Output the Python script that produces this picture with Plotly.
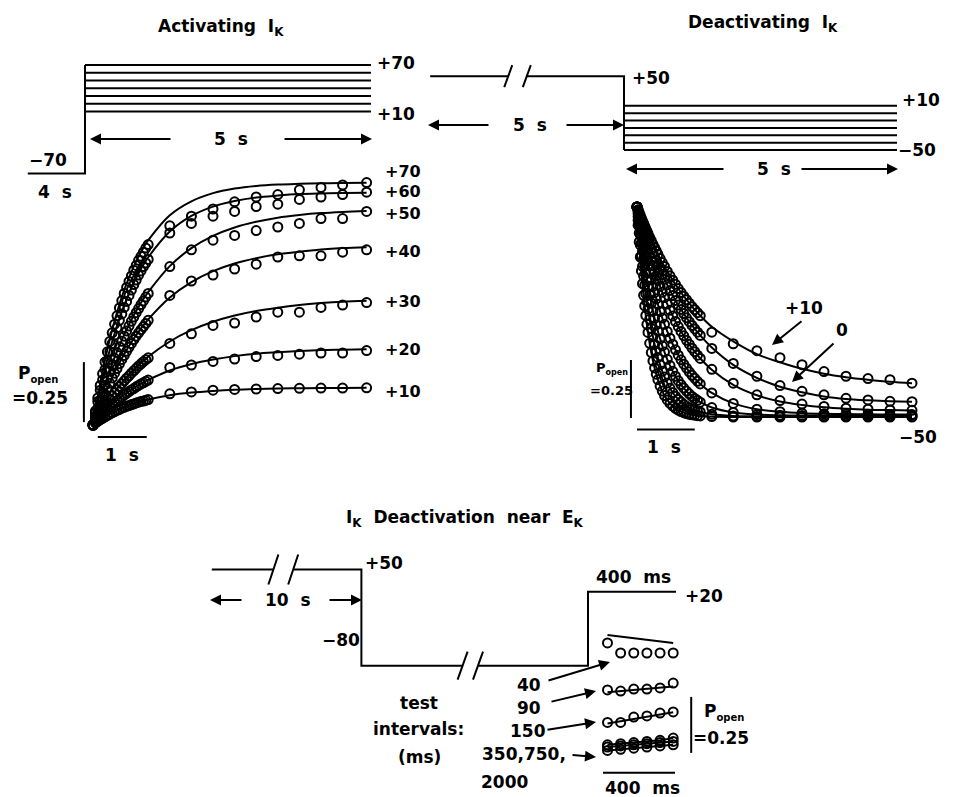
import plotly.graph_objects as go

# reference canvas is 960x797; the page adds an 8 px body margin, so the figure is 952x789
OFF = 8
W, H = 960 - OFF, 797 - OFF
FONT = "DejaVu Sans, Verdana, sans-serif"

# ===================== DATA =====================
# --- Panel A: activating I_K (time in s, open probability) ---
a_time_s = [0, 0.05, 0.1, 0.15, 0.2, 0.25, 0.3, 0.35, 0.4, 0.45, 0.5, 0.55, 0.6, 0.65, 0.7, 0.75,
            0.8, 0.85, 0.9, 0.95, 1.0, 1.05, 1.1, 1.15,
            1.6, 2.05, 2.5, 2.95, 3.4, 3.85, 4.3, 4.75, 5.2, 5.7]
a_labels = ["+70", "+60", "+50", "+40", "+30", "+20", "+10"]
a_fit_p70 = [0, .062, .119, .173, .223, .271, .316, .358, .397, .434, .469, .502, .533, .562, .589, .614,
             .638, .661, .682, .702, .721, .738, .755, .770,
             .874, .932, .966, .985, .996, 1.002, 1.005, 1.007, 1.008, 1.009]
a_obs_p70 = [0, .058, .113, .165, .214, .262, .305, .348, .384, .42, .455, .488, .518, .548, .573, .598,
             .621, .645, .665, .686, .703, .72, .737, .752,
             .83, .87, .90, .93, .95, .96, .98, .99, 1.0, 1.01]
a_fit_p60 = [0, .052, .102, .149, .193, .236, .275, .312, .348, .381, .413, .443, .472, .499, .524, .548,
             .571, .593, .613, .632, .651, .668, .684, .699,
             .806, .871, .91, .933, .948, .956, .962, .965, .967, .968]
a_obs_p60 = [0, .05, .098, .145, .188, .232, .268, .305, .34, .375, .405, .436, .463, .49, .515, .54,
             .562, .585, .604, .625, .642, .66, .675, .69,
             .80, .84, .87, .89, .91, .92, .94, .95, .96, .97]
a_fit_p50 = [0, .037, .072, .106, .138, .169, .199, .228, .255, .282, .307, .331, .354, .376, .398, .419,
             .438, .457, .475, .492, .509, .525, .54, .554,
             .662, .737, .788, .823, .847, .864, .875, .883, .888, .892]
a_obs_p50 = [0, .036, .07, .104, .135, .166, .195, .224, .251, .278, .302, .326, .349, .37, .392, .412,
             .432, .45, .468, .485, .502, .517, .533, .548,
             .66, .73, .77, .79, .81, .825, .84, .86, .86, .89]
a_fit_p40 = [0, .029, .056, .082, .107, .131, .155, .177, .199, .22, .239, .259, .277, .295, .312, .329,
             .345, .36, .375, .389, .402, .416, .428, .44,
             .531, .595, .641, .673, .695, .711, .722, .731, .737, .741]
a_obs_p40 = [0, .028, .054, .08, .104, .128, .152, .174, .196, .216, .235, .255, .273, .29, .307, .324,
             .34, .356, .37, .384, .397, .41, .423, .436,
             .54, .60, .625, .65, .67, .70, .705, .705, .72, .73]
a_fit_p30 = [0, .017, .034, .05, .066, .082, .096, .11, .124, .137, .15, .163, .175, .187, .198, .208,
             .219, .229, .239, .249, .258, .267, .275, .284,
             .348, .395, .43, .456, .475, .489, .5, .508, .514, .518]
a_obs_p30 = [0, .017, .033, .049, .064, .08, .094, .108, .122, .135, .147, .16, .172, .184, .195, .205,
             .216, .226, .236, .246, .255, .264, .272, .28,
             .34, .38, .415, .425, .45, .47, .47, .49, .50, .51]
a_fit_p20 = [0, .012, .024, .035, .046, .056, .066, .076, .085, .094, .102, .11, .118, .126, .133, .14,
             .147, .154, .16, .166, .172, .177, .183, .188,
             .227, .254, .273, .287, .297, .303, .308, .312, .314, .316]
a_obs_p20 = [0, .012, .023, .034, .045, .055, .065, .075, .084, .093, .101, .109, .117, .125, .132, .139,
             .146, .152, .159, .165, .171, .176, .182, .187,
             .24, .25, .265, .275, .285, .29, .295, .30, .30, .31]
a_fit_p10 = [0, .008, .015, .022, .028, .034, .04, .046, .051, .056, .061, .066, .07, .074, .078, .082,
             .085, .089, .092, .095, .098, .101, .103, .106,
             .124, .135, .142, .147, .15, .152, .153, .154, .154, .155]
a_obs_p10 = [0, .008, .015, .022, .028, .034, .04, .045, .051, .056, .061, .065, .07, .074, .078, .081,
             .085, .088, .092, .095, .098, .1, .103, .106,
             .13, .138, .145, .148, .15, .152, .153, .154, .154, .155]

# --- Panel A protocol (mV; holding segment drawn shortened, labelled 4 s) ---
a_step_mV = [10, 20, 30, 40, 50, 60, 70]
a_hold_mV = -70
a_hold_shown_s = 1.0
a_step_s = 5.0

# --- Panel B: deactivating I_K ---
b_time_s = [0, .02, .04, .06, .08, .10, .12, .14, .16, .18, .20, .23, .26, .29, .32, .35, .38, .42,
            .46, .50, .55, .60, .65, .70, .75, .80, .85, .90, .95, 1.00, 1.05, 1.10, 1.15,
            1.36, 1.75, 2.18, 2.6, 3.0, 3.4, 3.8, 4.2, 4.6, 5.0]
b_labels = ["+10", "0", "-10", "-20", "-30", "-40", "-50"]
b_fit_p10 = [.91, .898, .885, .873, .862, .85, .839, .827, .816, .805, .795, .779, .764, .748, .734, .72,
             .706, .687, .67, .653, .632, .613, .594, .576, .558, .541, .525, .51, .495, .48, .467, .454, .441,
             .393, .33, .275, .24, .212, .191, .176, .165, .156, .15]
b_obs_p10 = [.91, .898, .885, .873, .862, .85, .839, .827, .816, .805, .795, .779, .764, .748, .734, .72,
             .706, .687, .67, .653, .632, .613, .594, .576, .558, .541, .525, .51, .495, .48, .467, .454, .441,
             .37, .32, .29, .26, .23, .20, .18, .17, .165, .15]
b_fit_0 = [.91, .895, .879, .865, .85, .836, .822, .808, .794, .781, .768, .749, .73, .712, .694, .677,
           .66, .639, .618, .598, .574, .55, .528, .507, .487, .468, .45, .432, .415, .399, .384, .37, .356,
           .304, .229, .173, .135, .111, .093, .082, .076, .072, .07]
b_obs_0 = [.91, .895, .879, .865, .85, .836, .822, .808, .794, .781, .768, .749, .73, .712, .694, .677,
           .66, .639, .618, .598, .574, .55, .528, .507, .487, .468, .45, .432, .415, .399, .384, .37, .356,
           .30, .235, .18, .14, .115, .10, .085, .078, .072, .07]
b_fit_m10 = [.91, .89, .87, .85, .831, .812, .794, .776, .759, .742, .725, .701, .678, .656, .634, .613,
             .593, .567, .542, .519, .491, .464, .44, .416, .394, .373, .354, .335, .318, .301, .286, .271, .257,
             .208, .143, .098, .071, .056, .046, .04, .036, .034, .032]
b_obs_m10 = [.91, .89, .87, .85, .831, .812, .794, .776, .759, .742, .725, .701, .678, .656, .634, .613,
             .593, .567, .542, .519, .491, .464, .44, .416, .394, .373, .354, .335, .318, .301, .286, .271, .257,
             .21, .15, .10, .075, .06, .05, .042, .038, .035, .033]
b_fit_m20 = [.91, .881, .852, .825, .798, .773, .748, .724, .7, .678, .656, .625, .595, .567, .54, .514,
             .49, .459, .431, .404, .373, .344, .318, .294, .271, .251, .232, .215, .199, .184, .171, .158, .147,
             .108, .063, .038, .027, .021, .018, .017, .016, .015, .015]
b_fit_m30 = [.91, .868, .828, .79, .754, .719, .686, .655, .625, .596, .569, .53, .495, .461, .43, .401,
             .374, .341, .311, .284, .253, .226, .201, .18, .161, .144, .129, .116, .104, .093, .084, .076, .068,
             .045, .024, .015, .012, .011, .01, .01, .01, .01, .01]
b_fit_m40 = [.91, .852, .797, .746, .698, .654, .612, .573, .536, .502, .47, .426, .386, .35, .317, .288,
             .261, .229, .201, .177, .151, .128, .11, .094, .08, .069, .059, .051, .044, .038, .033, .029, .026,
             .016, .009, .007, .006, .006, .006, .006, .006, .006, .006]
b_fit_m50 = [.91, .831, .759, .694, .634, .579, .529, .483, .442, .404, .369, .322, .282, .246, .216, .189,
             .165, .138, .116, .097, .078, .063, .051, .042, .034, .028, .023, .019, .016, .014, .012, .01, .009,
             .006, .004, .004, .004, .004, .004, .004, .004, .004, .004]

# --- Panel B protocol ---
b_step_mV = [10, 0, -10, -20, -30, -40, -50]
b_pre_mV = 50
b_pre_shown_s = [-3.55, -2.12, -1.78, 0.0]   # pre-pulse drawn with a break (labelled 5 s)
b_step_s = 5.0

# --- Panel C: I_K deactivation near E_K ---
c_pre_mV, c_int_mV, c_test_mV = 50, -80, 20
c_proto_s = [-1.71, -1.43, -1.34, -1.03, -0.57, -0.50, 0.0, 0.40]   # schematic, with breaks
c_time_ms = [25, 98, 171, 244, 317, 390]
c_obs_40 = [0.545, 0.50, 0.50, 0.50, 0.50, 0.50]
c_fit_40 = [0.58, 0.573, 0.566, 0.559, 0.552, 0.545]
c_obs_90 = [0.335, 0.33, 0.339, 0.339, 0.344, 0.366]
c_fit_90 = [0.325, 0.33, 0.335, 0.34, 0.345, 0.35]
c_obs_150 = [0.19, 0.19, 0.214, 0.219, 0.232, 0.237]
c_fit_150 = [0.185, 0.195, 0.205, 0.215, 0.225, 0.235]
c_obs_350 = [0.09, 0.095, 0.10, 0.105, 0.11, 0.12]
c_obs_750 = [0.08, 0.085, 0.09, 0.095, 0.10, 0.105]
c_obs_2000 = [0.065, 0.07, 0.075, 0.08, 0.085, 0.09]

# ===================== HELPERS =====================
def xax(p0, p1, origin, ppu):
    return dict(domain=[(p0 - OFF) / W, (p1 - OFF) / W], range=[(p0 - origin) / ppu, (p1 - origin) / ppu])


def yax(p0, p1, origin, ppu):
    return dict(domain=[1 - (p1 - OFF) / H, 1 - (p0 - OFF) / H],
                range=[(origin - p1) / ppu, (origin - p0) / ppu])


def px(x, y):
    return (x - OFF) / W, 1 - (y - OFF) / H


def txt(x, y, s, size=17, xanchor="center"):
    X, Y = px(x, y)
    return dict(x=X, y=Y, xref="paper", yref="paper", text="<b>" + s + "</b>", showarrow=False,
                font=dict(size=size, color="black", family=FONT), xanchor=xanchor, yanchor="middle")


def arrow(hx, hy, tx, ty):
    X, Y = px(hx, hy)
    return dict(x=X, y=Y, xref="paper", yref="paper", ax=tx - hx, ay=ty - hy, axref="pixel",
                ayref="pixel", text="", showarrow=True, arrowhead=2, arrowsize=1.1,
                arrowwidth=2, arrowcolor="black")


MARK = dict(symbol="circle-open", size=9, color="black", line=dict(width=2, color="black"))

fig = go.Figure()


def line(xs, ys, ax, shape="linear", width=2):
    fig.add_trace(go.Scatter(x=xs, y=ys, mode="lines", line=dict(color="black", width=width, shape=shape),
                             xaxis="x" + ax, yaxis="y" + ax, hoverinfo="skip", showlegend=False))


def marks(xs, ys, ax):
    fig.add_trace(go.Scatter(x=xs, y=ys, mode="markers", marker=MARK, xaxis="x" + ax, yaxis="y" + ax,
                             hoverinfo="skip", showlegend=False, cliponaxis=False))


# ---------- Panel A protocol (axis 1) ----------
line([-a_hold_shown_s, 0, 0], [a_hold_mV, a_hold_mV, max(a_step_mV)], "")
for v in a_step_mV:
    line([0, a_step_s], [v, v], "")

# ---------- Panel A data (axis 2) ----------
a_fits = [a_fit_p70, a_fit_p60, a_fit_p50, a_fit_p40, a_fit_p30, a_fit_p20, a_fit_p10]
a_obs = [a_obs_p70, a_obs_p60, a_obs_p50, a_obs_p40, a_obs_p30, a_obs_p20, a_obs_p10]
for f in a_fits:
    line(a_time_s, f, "2", shape="spline")
for o in a_obs:
    marks(a_time_s, o, "2")

# ---------- Panel B protocol (axis 3) ----------
line(b_pre_shown_s[:2], [b_pre_mV] * 2, "3")
line([b_pre_shown_s[2], b_pre_shown_s[3], 0], [b_pre_mV, b_pre_mV, min(b_step_mV)], "3")
for v in b_step_mV:
    line([0, b_step_s], [v, v], "3")

# ---------- Panel B data (axis 4) ----------
b_fits = [b_fit_p10, b_fit_0, b_fit_m10, b_fit_m20, b_fit_m30, b_fit_m40, b_fit_m50]
b_obs = [b_obs_p10, b_obs_0, b_obs_m10, b_fit_m20, b_fit_m30, b_fit_m40, b_fit_m50]
for f in b_fits:
    line(b_time_s, f, "4", shape="spline")
for o in b_obs:
    marks(b_time_s, o, "4")

# ---------- Panel C protocol (axis 5) ----------
t = c_proto_s
line([t[0], t[1]], [c_pre_mV] * 2, "5")
line([t[2], t[3], t[3], t[4]], [c_pre_mV, c_pre_mV, c_int_mV, c_int_mV], "5")
line([t[5], t[6], t[6], t[7]], [c_int_mV, c_int_mV, c_test_mV, c_test_mV], "5")

# ---------- Panel C data (axis 6) ----------
for f in [c_fit_40, c_fit_90, c_fit_150, c_obs_350, c_obs_750, c_obs_2000]:
    line(c_time_ms, f, "6")
for o in [c_obs_40, c_obs_90, c_obs_150, c_obs_350, c_obs_750, c_obs_2000]:
    marks(c_time_ms, o, "6")

# ===================== LAYOUT =====================
axes = {
    "": (xax(8, 420, 85, 57.2), yax(30, 230, 119.25, 0.775)),
    "2": (xax(8, 420, 93, 48), yax(160, 470, 425, 240)),
    "3": (xax(420, 960, 624, 54.6), yax(30, 210, 113.13, 0.7395)),
    "4": (xax(580, 960, 637, 55), yax(180, 470, 418, 232)),
    "5": (xax(180, 760, 588, 220), yax(530, 700, 606.5, 0.74)),
    "6": (xax(580, 760, 603, 0.18), yax(610, 797, 765, 224)),
}
lay = {}
for k, (xa, ya) in axes.items():
    xa.update(visible=False, fixedrange=True, anchor="y" + k)
    ya.update(visible=False, fixedrange=True, anchor="x" + k)
    lay["xaxis" + k] = xa
    lay["yaxis" + k] = ya

shapes = []


def brk(xref, yref, t0, v0, hw, hh):
    shapes.append(dict(type="line", xref=xref, yref=yref, xsizemode="pixel", ysizemode="pixel",
                       xanchor=t0, yanchor=v0, x0=-hw, x1=hw, y0=-hh, y1=hh,
                       line=dict(color="black", width=2)))


# break marks on schematic traces
brk("x3", "y3", b_pre_shown_s[1], b_pre_mV, 4, 11)
brk("x3", "y3", b_pre_shown_s[2], b_pre_mV, 4, 11)
brk("x5", "y5", c_proto_s[1], c_pre_mV, 5, 15)
brk("x5", "y5", c_proto_s[2], c_pre_mV, 5, 15)
brk("x5", "y5", c_proto_s[4], c_int_mV, 5, 14)
brk("x5", "y5", c_proto_s[5], c_int_mV, 5, 14)

# scale bars (data units)
bar = dict(color="black", width=2)
shapes += [
    dict(type="line", xref="x2", yref="y2", x0=-0.19, x1=-0.19, y0=0.012, y1=0.262, line=bar),
    dict(type="line", xref="x2", yref="y2", x0=0.10, x1=1.12, y0=-0.05, y1=-0.05, line=bar),
    dict(type="line", xref="x4", yref="y4", x0=-0.11, x1=-0.11, y0=0.0, y1=0.25, line=bar),
    dict(type="line", xref="x4", yref="y4", x0=0.0, x1=1.05, y0=-0.05, y1=-0.05, line=bar),
    dict(type="line", xref="x6", yref="y6", x0=490, x1=490, y0=0.054, y1=0.304, line=bar),
    dict(type="line", xref="x6", yref="y6", x0=0, x1=400, y0=-0.035, y1=-0.035, line=bar),
]

POPEN = "P<sub><span style='font-size:10px'>open</span></sub>"
POPEN_S = "P<sub><span style='font-size:8px'>open</span></sub>"
ann = [
    # titles
    txt(221, 27, "Activating  I<sub>K</sub>"),
    txt(763, 24, "Deactivating  I<sub>K</sub>"),
    txt(465, 518, "I<sub>K</sub>  Deactivation  near  E<sub>K</sub>"),
    # panel A protocol
    txt(375, 63, "+70", xanchor="left"),
    txt(375, 114, "+10", xanchor="left"),
    txt(48, 160, "−70"),
    txt(55, 192, "4  s"),
    txt(231, 139, "5  s"),
    arrow(90, 139, 172, 139), arrow(372, 139, 283, 139),
    # panel B protocol
    txt(630, 78, "+50", xanchor="left"),
    txt(900, 100, "+10", xanchor="left"),
    txt(896, 150, "−50", xanchor="left"),
    txt(530, 125, "5  s"),
    arrow(428, 125, 490, 125), arrow(624, 125, 565, 125),
    txt(774, 169, "5  s"),
    arrow(626, 169, 725, 169), arrow(898, 169, 800, 169),
    # panel A data
    txt(38, 374, POPEN),
    txt(40, 398, "=0.25"),
    txt(122, 455, "1  s"),
    # panel B data
    txt(804, 308, "+10"),
    txt(842, 330, "0"),
    arrow(772, 345, 803, 320), arrow(792, 382, 835, 342),
    txt(918, 437, "−50"),
    txt(612, 368, POPEN_S, size=13),
    txt(611, 390, "=0.25", size=13),
    txt(664, 447, "1  s"),
    # panel C
    txt(363, 563, "+50", xanchor="left"),
    txt(341, 640, "−80"),
    txt(288, 600, "10  s"),
    arrow(210, 600, 243, 600), arrow(362, 600, 328, 600),
    txt(633, 577, "400  ms"),
    txt(683, 596, "+20", xanchor="left"),
    txt(419, 703, "test"),
    txt(418, 729, "intervals:"),
    txt(419, 757, "(ms)"),
    txt(529, 685, "40"), txt(529, 708, "90"), txt(528, 731, "150"),
    txt(524, 754, "350,750,"), txt(504, 782, "2000"),
    arrow(610, 662, 547, 681), arrow(596, 691, 550, 702), arrow(596, 722, 546, 730),
    arrow(596, 757, 571, 755),
    txt(724, 712, POPEN),
    txt(721, 738, "=0.25"),
    txt(642, 788, "400  ms"),
]
# panel A voltage labels at the end of each trace
for lab, yy in zip(a_labels, [172, 191, 213, 251, 301, 350, 392]):
    ann.append(txt(383, yy, lab, size=16, xanchor="left"))

fig.update_layout(width=W, height=H, margin=dict(l=0, r=0, t=0, b=0), paper_bgcolor="white",
                  plot_bgcolor="rgba(0,0,0,0)", showlegend=False, shapes=shapes, annotations=ann, **lay)
fig.write_html("out.html")
